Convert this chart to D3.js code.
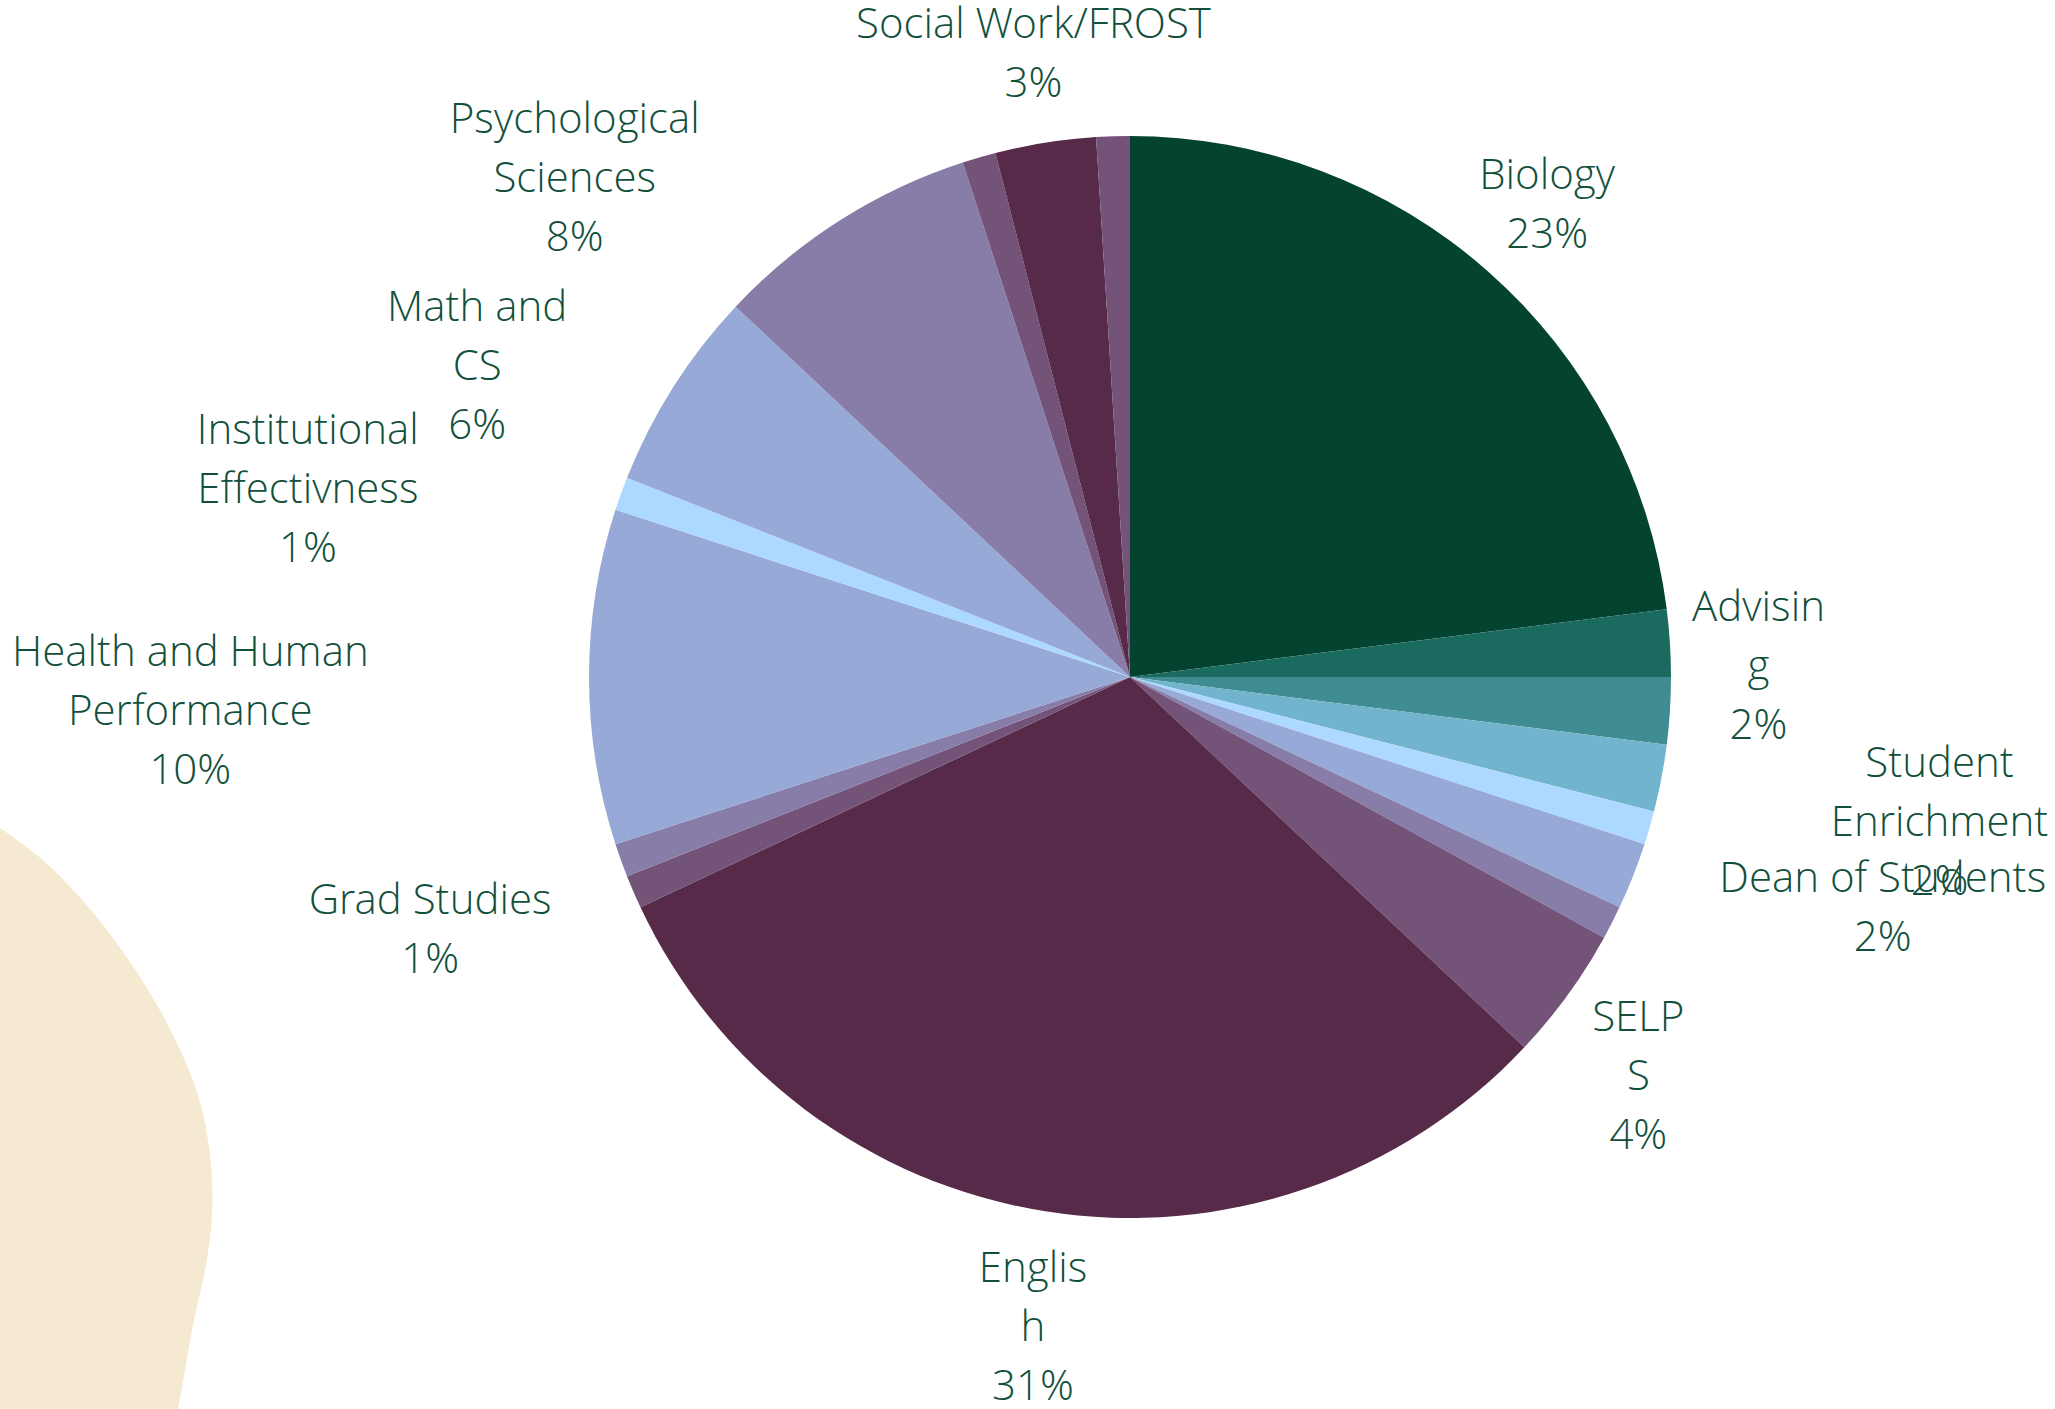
<!DOCTYPE html>
<html>
<head>
<meta charset="utf-8">
<script src="https://cdn.jsdelivr.net/npm/d3@7"></script>
<style>
  body { margin: 0; background: #fff; }
  svg { display: block; }
  .label text { font-family: "Open Sans Light", "Open Sans"; font-weight: 300; fill: #12503c; }
</style>
</head>
<body>
<div id="chart"></div>
<script>
// slices clockwise from 12 o'clock; "" = slice drawn without a label
const categories = ["Biology", "Advising", "", "Student Enrichment", "", "Dean of Students", "",
  "SELPS", "English", "", "Grad Studies", "Health and Human Performance",
  "Institutional Effectivness", "Math and CS", "Psychological Sciences", "", "Social Work/FROST", ""];
const values = [23, 2, 2, 2, 1, 2, 1, 4, 31, 1, 1, 10, 1, 6, 8, 1, 3, 1];
const colors = ["#03432f", "#1b6a5f", "#3f8c92", "#72b4cd", "#add8ff", "#97a9d7", "#877da8",
  "#735378", "#562a48", "#735378", "#877da8", "#97a9d7", "#add8ff", "#97a9d7", "#877da8",
  "#735378", "#562a48", "#735378"];

// how each label wraps in the original
const labelLines = {
  "Biology": ["Biology"],
  "Advising": ["Advisin", "g"],
  "Student Enrichment": ["Student", "Enrichment"],
  "Dean of Students": ["Dean of Students"],
  "SELPS": ["SELP", "S"],
  "English": ["Englis", "h"],
  "Grad Studies": ["Grad Studies"],
  "Health and Human Performance": ["Health and Human", "Performance"],
  "Institutional Effectivness": ["Institutional", "Effectivness"],
  "Math and CS": ["Math and", "CS"],
  "Psychological Sciences": ["Psychological", "Sciences"],
  "Social Work/FROST": ["Social Work/FROST"]
};
// label layout: [distance as share of radius, angle nudge in degrees]
const labelPlace = {
  "Biology": [1.166, 0],
  "Advising": [1.162, 2.5],
  "Student Enrichment": [1.52, -0.7],
  "Dean of Students": [1.455, -4.6],
  "SELPS": [1.194, 2.1],
  "English": [1.213, -0.5],
  "Grad Studies": [1.375, 0],
  "Health and Human Performance": [1.738, -2],
  "Institutional Effectivness": [1.559, -6.9],
  "Math and CS": [1.337, -6.9],
  "Psychological Sciences": [1.381, -15.6],
  "Social Work/FROST": [1.167, 0.2]
};

const width = 2055, height = 1409;
const cx = 1130, cy = 677, radius = 541;
const fontSize = 42, lineHeight = 59;

const svg = d3.select("#chart")
  .append("svg")
  .attr("width", width)
  .attr("height", height)
  .attr("viewBox", [0, 0, width, height]);

// beige blob in the lower left corner
const blob = [[-20, 815], [0, 828], [45, 862], [95, 915], [140, 977], [173, 1035],
  [198, 1095], [210, 1155], [212, 1215], [206, 1265], [193, 1325], [178, 1409], [170, 1440], [-20, 1440]];
svg.append("path")
  .attr("d", d3.line().curve(d3.curveCatmullRom)(blob))
  .attr("fill", "#f6e9d1");

const total = d3.sum(values);
const pct = d3.format(".0%");
const color = d3.scaleOrdinal(d3.range(values.length), colors);

const arcs = d3.pie().sort(null).value(d => d)(values);
const arc = d3.arc().innerRadius(0).outerRadius(radius);

const g = svg.append("g").attr("transform", `translate(${cx},${cy})`);

g.selectAll("path")
  .data(arcs)
  .join("path")
  .attr("d", arc)
  .attr("fill", (d, i) => color(i));

const labels = g.selectAll("g.label")
  .data(arcs.filter((d, i) => categories[i] !== ""))
  .join("g")
  .attr("class", "label")
  .attr("transform", d => {
    const name = categories[d.index];
    const [k, nudge] = labelPlace[name];
    const a = (d.startAngle + d.endAngle) / 2 + nudge * Math.PI / 180;
    const r = radius * k;
    return `translate(${r * Math.sin(a)},${-r * Math.cos(a)})`;
  });

labels.append("text")
  .attr("text-anchor", "middle")
  .attr("font-size", fontSize)
  .selectAll("tspan")
  .data(d => {
    const lines = labelLines[categories[d.index]].concat(pct(d.value / total));
    return lines.map((t, j) => ({ t, y: (j - (lines.length - 1) / 2) * lineHeight }));
  })
  .join("tspan")
  .attr("x", 0)
  .attr("y", l => l.y)
  .attr("dy", "0.35em")
  .text(l => l.t);
</script>
</body>
</html>
